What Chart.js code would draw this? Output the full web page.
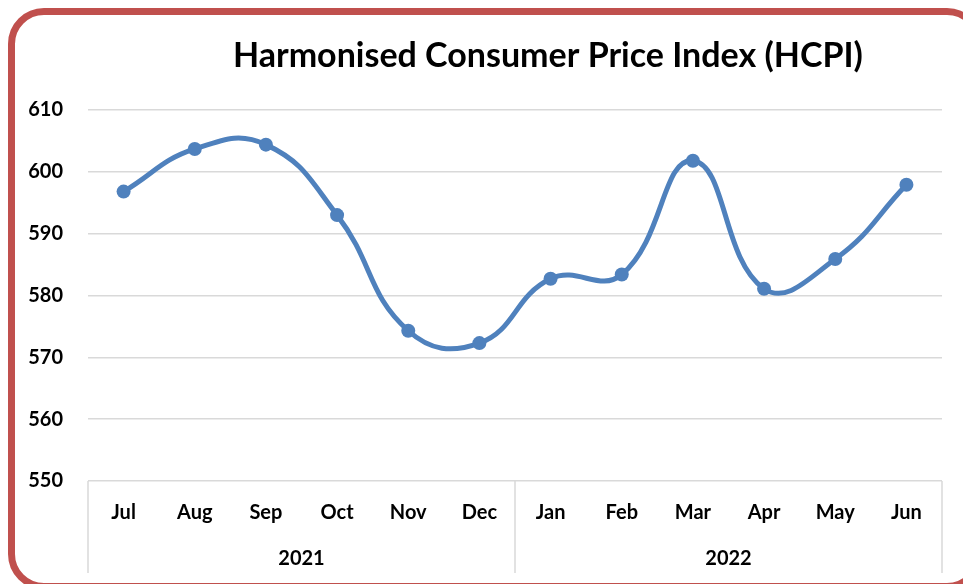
<!DOCTYPE html>
<html>
<head>
<meta charset="utf-8">
<script src="https://cdn.jsdelivr.net/npm/chart.js@4"></script>
<style>
  html, body { margin: 0; padding: 0; background: #fff; overflow: hidden; }
  #wrap { position: relative; width: 963px; height: 584px; }
  #frame {
    position: absolute; left: 8px; top: 8px; width: 975px; height: 582px;
    border: 7px solid #C0504D; border-radius: 36px; box-sizing: border-box;
    pointer-events: none;
  }
  canvas { position: absolute; left: 0; top: 0; }
</style>
</head>
<body>
<div id="wrap">
  <canvas id="myChart" width="963" height="584"></canvas>
  <div id="frame"></div>
</div>
<script>
// Chart data
var months = ['Jul', 'Aug', 'Sep', 'Oct', 'Nov', 'Dec', 'Jan', 'Feb', 'Mar', 'Apr', 'May', 'Jun'];
var years = ['2021', '2022'];
var monthsPerYear = [6, 6];
var hcpi = [596.8, 603.7, 604.4, 593.0, 574.3, 572.3, 582.7, 583.4, 601.8, 581.1, 585.9, 597.9];
var yTicks = [550, 560, 570, 580, 590, 600, 610];

var titleText = 'Harmonised Consumer Price Index (HCPI)';
var fontFamily = 'Lato, "Open Sans", sans-serif';
var gridColor = '#d9d9d9';

// Title + year group box lines
var extras = {
  id: 'extras',
  afterDraw: function(chart) {
    var ctx = chart.ctx;
    var area = chart.chartArea;
    var x = chart.scales.x;
    var x2 = chart.scales.x2;
    ctx.save();
    // group separators below the axis
    ctx.strokeStyle = gridColor;
    ctx.lineWidth = 1.5;
    var edges = [area.left];
    var count = 0;
    monthsPerYear.forEach(function(n) {
      count += n;
      if (count < months.length) {
        edges.push((x.getPixelForValue(count - 1) + x.getPixelForValue(count)) / 2);
      }
    });
    edges.push(area.right);
    edges.forEach(function(px) {
      ctx.beginPath();
      ctx.moveTo(px, area.bottom);
      ctx.lineTo(px, x2.bottom);
      ctx.stroke();
    });
    // title
    ctx.fillStyle = '#000';
    ctx.font = 'bold 34px ' + fontFamily;
    ctx.textAlign = 'center';
    ctx.textBaseline = 'middle';
    ctx.fillText(titleText, chart.width * 0.569, 56);
    ctx.restore();
  }
};

var config = {
  type: 'line',
  data: {
    labels: months,
    datasets: [{
      label: 'HCPI',
      data: hcpi,
      borderColor: '#4F81BD',
      backgroundColor: '#4F81BD',
      borderWidth: 5,
      tension: 0.45,
      pointRadius: 7,
      pointHoverRadius: 7,
      pointBackgroundColor: '#4F81BD',
      pointBorderWidth: 0,
      xAxisID: 'x'
    }]
  },
  options: {
    responsive: false,
    animation: false,
    layout: {
      padding: { left: 0, right: 21, top: 110, bottom: 11 }
    },
    plugins: {
      legend: { display: false },
      title: { display: false },
      tooltip: { enabled: false }
    },
    scales: {
      y: {
        min: 550,
        max: 610,
        afterBuildTicks: function(scale) {
          scale.ticks = yTicks.map(function(v) { return { value: v }; });
        },
        afterFit: function(scale) { scale.width = 88; },
        grid: { color: gridColor, lineWidth: 1.5, drawTicks: false },
        border: { display: false },
        ticks: {
          padding: 25,
          color: '#000',
          font: { family: fontFamily, size: 20, weight: 'bold' }
        }
      },
      x: {
        position: 'bottom',
        offset: true,
        afterFit: function(scale) { scale.height = 54; },
        grid: { display: false, drawTicks: false },
        border: { display: false },
        ticks: {
          padding: 20,
          maxRotation: 0,
          autoSkip: false,
          color: '#000',
          font: { family: fontFamily, size: 20, weight: 'bold' }
        }
      },
      x2: {
        type: 'category',
        labels: years,
        position: 'bottom',
        offset: true,
        afterFit: function(scale) { scale.height = 38; },
        grid: { display: false, drawTicks: false },
        border: { display: false },
        ticks: {
          padding: 12,
          maxRotation: 0,
          color: '#000',
          font: { family: fontFamily, size: 20, weight: 'bold' }
        }
      }
    }
  },
  plugins: [extras]
};

var myChart = new Chart(document.getElementById('myChart').getContext('2d'), config);
</script>
</body>
</html>
